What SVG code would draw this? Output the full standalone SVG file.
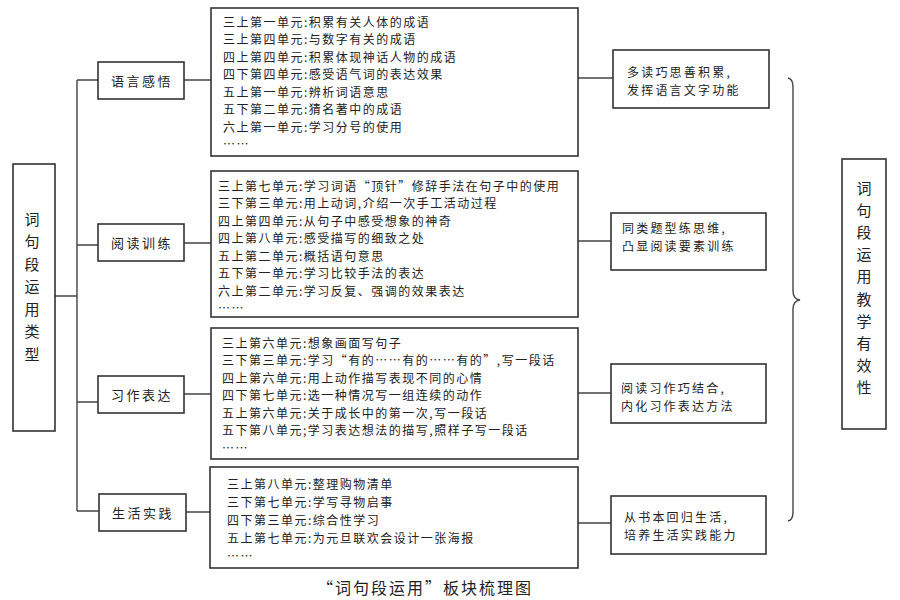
<svg xmlns="http://www.w3.org/2000/svg" width="900" height="600" viewBox="0 0 900 600">
<style>
.box{fill:#fff;stroke:#333;stroke-width:1.6}
.ln{fill:none;stroke:#444;stroke-width:1.4}
text{font-family:"Noto Sans CJK SC","Noto Sans",sans-serif;fill:#222}
.d{font-size:12px;letter-spacing:1.5px;dominant-baseline:central}
.c{font-size:13px;letter-spacing:2.5px;text-anchor:middle;dominant-baseline:central}
.r{font-size:12px;letter-spacing:2.2px;dominant-baseline:central}
.v{font-size:15px;text-anchor:middle;dominant-baseline:central}
</style>
<rect width="900" height="600" fill="#fff"/>
<g id="connectors">
<path class="ln" d="M55 296H77M77 80V511M77 80H98M77 245H98M77 402H98M77 511H99"/>
<path class="ln" d="M184 80H211M184 243H211M184 394H211M186 512H210"/>
<path class="ln" d="M578 78H613M578 241H611M578 393H611M578 523H611"/>
<path class="ln" d="M788 78Q793 79 793 87V291Q793 299 800 300Q793 301 793 309V512Q793 520 788 521"/>
</g>
<g id="root">
<rect class="box" x="13" y="164" width="42" height="267"/>
<text class="v" x="32" y="218">词</text>
<text class="v" x="32" y="240.5">句</text>
<text class="v" x="32" y="263">段</text>
<text class="v" x="32" y="285.5">运</text>
<text class="v" x="32" y="308">用</text>
<text class="v" x="32" y="330.5">类</text>
<text class="v" x="32" y="353">型</text>
</g>
<g id="cat1"><rect class="box" x="98" y="62" width="86" height="37"/><text class="c" x="142" y="80.5">语言感悟</text></g>
<g id="cat2"><rect class="box" x="98" y="224" width="86" height="37"/><text class="c" x="142" y="242.5">阅读训练</text></g>
<g id="cat3"><rect class="box" x="98" y="376" width="86" height="37"/><text class="c" x="142" y="394.5">习作表达</text></g>
<g id="cat4"><rect class="box" x="99" y="494" width="87" height="37"/><text class="c" x="143" y="512.5">生活实践</text></g>
<g id="detail1">
<rect class="box" x="211" y="8" width="367" height="148"/>
<text class="d" x="223" y="21">三上第一单元:积累有关人体的成语</text>
<text class="d" x="223" y="38.5">三上第四单元:与数字有关的成语</text>
<text class="d" x="223" y="56">四上第四单元:积累体现神话人物的成语</text>
<text class="d" x="223" y="73.5">四下第四单元:感受语气词的表达效果</text>
<text class="d" x="223" y="91">五上第一单元:辨析词语意思</text>
<text class="d" x="223" y="108.5">五下第二单元:猜名著中的成语</text>
<text class="d" x="223" y="126">六上第一单元:学习分号的使用</text>
<text class="d" x="223" y="143.5">……</text>
</g>
<g id="detail2">
<rect class="box" x="211" y="171" width="367" height="146"/>
<text class="d" x="218" y="185">三上第七单元:学习词语“顶针”修辞手法在句子中的使用</text>
<text class="d" x="218" y="202.5">三下第三单元:用上动词,介绍一次手工活动过程</text>
<text class="d" x="218" y="220">四上第四单元:从句子中感受想象的神奇</text>
<text class="d" x="218" y="237.5">四上第八单元:感受描写的细致之处</text>
<text class="d" x="218" y="255">五上第二单元:概括语句意思</text>
<text class="d" x="218" y="272.5">五下第一单元:学习比较手法的表达</text>
<text class="d" x="218" y="290">六上第二单元:学习反复、强调的效果表达</text>
<text class="d" x="218" y="307.5">……</text>
</g>
<g id="detail3">
<rect class="box" x="211" y="328" width="367" height="131"/>
<text class="d" x="222" y="342">三上第六单元:想象画面写句子</text>
<text class="d" x="222" y="359.5">三下第三单元:学习“有的……有的……有的”,写一段话</text>
<text class="d" x="222" y="377">四上第六单元:用上动作描写表现不同的心情</text>
<text class="d" x="222" y="394.5">四下第七单元:选一种情况写一组连续的动作</text>
<text class="d" x="222" y="412">五上第六单元:关于成长中的第一次,写一段话</text>
<text class="d" x="222" y="429.5">五下第八单元;学习表达想法的描写,照样子写一段话</text>
<text class="d" x="222" y="447">……</text>
</g>
<g id="detail4">
<rect class="box" x="210" y="467" width="368" height="101"/>
<text class="d" x="227" y="483">三上第八单元:整理购物清单</text>
<text class="d" x="227" y="501">三下第七单元:学写寻物启事</text>
<text class="d" x="227" y="519">四下第三单元:综合性学习</text>
<text class="d" x="227" y="537">五上第七单元:为元旦联欢会设计一张海报</text>
<text class="d" x="227" y="555">……</text>
</g>
<g id="goal1"><rect class="box" x="613" y="50" width="156" height="58"/><text class="r" x="627" y="71">多读巧思善积累,</text><text class="r" x="627" y="89">发挥语言文字功能</text></g>
<g id="goal2"><rect class="box" x="611" y="213" width="155" height="57"/><text class="r" x="622" y="227">同类题型练思维,</text><text class="r" x="622" y="245">凸显阅读要素训练</text></g>
<g id="goal3"><rect class="box" x="611" y="364" width="155" height="59"/><text class="r" x="621" y="387">阅读习作巧结合,</text><text class="r" x="621" y="405">内化习作表达方法</text></g>
<g id="goal4"><rect class="box" x="611" y="496" width="155" height="58"/><text class="r" x="624" y="516">从书本回归生活,</text><text class="r" x="624" y="534">培养生活实践能力</text></g>
<g id="result">
<rect class="box" x="842" y="159" width="44" height="270"/>
<text class="v" x="864" y="187">词</text>
<text class="v" x="864" y="209.2">句</text>
<text class="v" x="864" y="231.4">段</text>
<text class="v" x="864" y="253.6">运</text>
<text class="v" x="864" y="275.8">用</text>
<text class="v" x="864" y="298">教</text>
<text class="v" x="864" y="320.2">学</text>
<text class="v" x="864" y="342.4">有</text>
<text class="v" x="864" y="364.6">效</text>
<text class="v" x="864" y="386.8">性</text>
</g>
<text x="425" y="587" font-size="16" letter-spacing="2" text-anchor="middle" dominant-baseline="central">“词句段运用”板块梳理图</text>
</svg>
